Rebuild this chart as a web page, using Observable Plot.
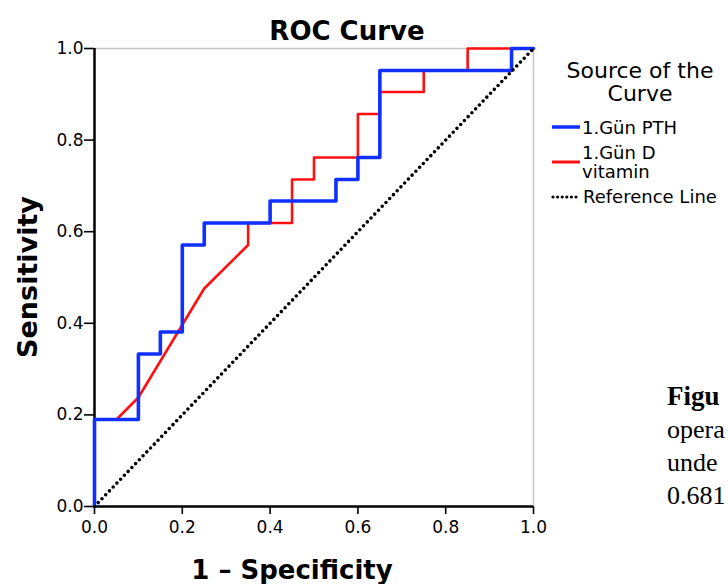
<!DOCTYPE html>
<html>
<head>
<meta charset="utf-8">
<script src="https://cdn.jsdelivr.net/npm/d3@7"></script>
<script src="https://cdn.jsdelivr.net/npm/@observablehq/plot@0.6"></script>
<style>
  html, body { margin: 0; padding: 0; background: #fff; }
  #chart { position: relative; width: 728px; height: 584px; overflow: hidden; }
</style>
</head>
<body>
<div id="chart"></div>
<script>
// ---- data ----
const tickValues = [0, 0.2, 0.4, 0.6, 0.8, 1.0];
const tickLabels = ["0.0", "0.2", "0.4", "0.6", "0.8", "1.0"];

const pthFpr = [0, 0, 0.10, 0.10, 0.15, 0.15, 0.20, 0.20, 0.25, 0.25, 0.40, 0.40, 0.55, 0.55, 0.60, 0.60, 0.65, 0.65, 0.95, 0.95, 1.0];
const pthTpr = [0, 0.190, 0.190, 0.333, 0.333, 0.381, 0.381, 0.571, 0.571, 0.619, 0.619, 0.667, 0.667, 0.714, 0.714, 0.762, 0.762, 0.952, 0.952, 1.0, 1.0];

const vitFpr = [0, 0, 0.05, 0.10, 0.25, 0.35, 0.35, 0.45, 0.45, 0.50, 0.50, 0.60, 0.60, 0.65, 0.65, 0.75, 0.75, 0.85, 0.85, 1.0];
const vitTpr = [0, 0.190, 0.190, 0.238, 0.476, 0.571, 0.619, 0.619, 0.714, 0.714, 0.762, 0.762, 0.857, 0.857, 0.905, 0.905, 0.952, 0.952, 1.0, 1.0];

const refFpr = [0, 1];
const refTpr = [0, 1];

const seriesNames = ["1.Gün PTH", "1.Gün D vitamin", "Reference Line"];
const seriesColors = ["#1030ff", "#ff1010", "#000000"];

const captionLines = ["Figu", "opera", "unde", "0.681"];

// ---- build tables ----
const toRows = (xs, ys) => xs.map((x, i) => ({x, y: ys[i]}));
const pth = toRows(pthFpr, pthTpr);
const vit = toRows(vitFpr, vitTpr);
const ref = toRows(refFpr, refTpr);
const fmt = d => tickLabels[tickValues.indexOf(d)] ?? d3.format(".1f")(d);

const font = "'DejaVu Sans', Verdana, sans-serif";

const svg = Plot.plot({
  width: 728,
  height: 584,
  marginLeft: 94,
  marginRight: 195,
  marginTop: 48,
  marginBottom: 78,
  style: { fontFamily: font, fontSize: "17px", color: "#000", background: "#fff" },
  x: { domain: [0, 1], label: null },
  y: { domain: [0, 1], label: null },
  marks: [
    Plot.ruleY([1], { stroke: "#c4c4c4", strokeWidth: 1.5 }),
    Plot.ruleX([1], { stroke: "#c4c4c4", strokeWidth: 1.5 }),
    Plot.axisX({ ticks: tickValues, tickFormat: fmt, tickSize: 8, tickPadding: 6, strokeWidth: 1.6, fontSize: 17, label: null }),
    Plot.axisY({ ticks: tickValues, tickFormat: fmt, tickSize: 10, tickPadding: 1, strokeWidth: 1.6, fontSize: 17, label: null }),
    Plot.ruleX([0], { stroke: "#000", strokeWidth: 2.5 }),
    Plot.ruleY([0], { stroke: "#000", strokeWidth: 2.5 }),
    Plot.line(vit, { x: "x", y: "y", stroke: seriesColors[1], strokeWidth: 2.6 }),
    Plot.line(pth, { x: "x", y: "y", stroke: seriesColors[0], strokeWidth: 3.6 }),
    Plot.line(ref, { x: "x", y: "y", stroke: seriesColors[2], strokeWidth: 3.6, strokeDasharray: "0 5.4", strokeLinecap: "round" })
  ]
});

document.getElementById("chart").appendChild(svg);

// ---- annotations: title, axis titles, legend, caption ----
const s = d3.select(svg);
const addText = (txt, x, y, opts = {}) => {
  const t = s.append("text").attr("x", x).attr("y", y).text(txt)
    .attr("font-family", opts.family || font)
    .attr("font-size", opts.size || 18)
    .attr("font-weight", opts.weight || "normal")
    .attr("text-anchor", opts.anchor || "start")
    .attr("fill", "#000");
  if (opts.rotate) t.attr("transform", `rotate(-90 ${x} ${y})`);
  return t;
};

addText("ROC Curve", 347, 40, { size: 26, weight: "bold", anchor: "middle" });
addText("Sensitivity", 37, 277, { size: 27, weight: "bold", anchor: "middle", rotate: true });
addText("1 – Specificity", 292, 579, { size: 26, weight: "bold", anchor: "middle" });

// legend
addText("Source of the", 640, 78, { size: 22, anchor: "middle" });
addText("Curve", 640, 101, { size: 22, anchor: "middle" });

s.append("line").attr("x1", 552).attr("x2", 580).attr("y1", 127).attr("y2", 127)
  .attr("stroke", seriesColors[0]).attr("stroke-width", 3.5);
addText(seriesNames[0], 582, 134, { size: 18 });

s.append("line").attr("x1", 552).attr("x2", 580).attr("y1", 162).attr("y2", 162)
  .attr("stroke", seriesColors[1]).attr("stroke-width", 3);
addText("1.Gün D", 582, 159, { size: 18 });
addText("vitamin", 582, 178, { size: 18 });

s.append("line").attr("x1", 553).attr("x2", 580).attr("y1", 197).attr("y2", 197)
  .attr("stroke", seriesColors[2]).attr("stroke-width", 3.2)
  .attr("stroke-dasharray", "0 4.6").attr("stroke-linecap", "round");
addText(seriesNames[2], 583, 203, { size: 18 });

// caption fragment at right (only the part visible in the reference)
const serif = "'Liberation Serif', 'Times New Roman', serif";
addText(captionLines[0], 667, 405, { size: 27, weight: "bold", family: serif });
addText(captionLines[1], 667, 438, { size: 26, family: serif });
addText(captionLines[2], 667, 471, { size: 26, family: serif });
addText(captionLines[3], 667, 504, { size: 26, family: serif });
</script>
</body>
</html>
